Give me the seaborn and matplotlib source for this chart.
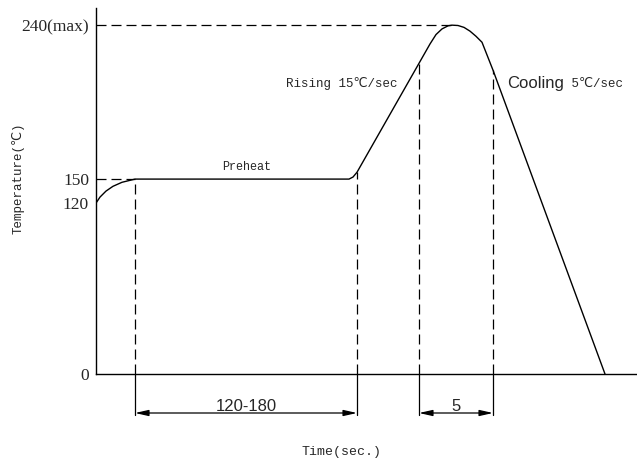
import matplotlib.pyplot as plt
import numpy as np
import seaborn as sns

# Reflow profile (schematic time units, temperature in C)
time = [0, 4, 10, 17, 26, 39, 253, 257, 261, 334, 340, 346, 352, 356, 362,
        368, 374, 380, 386, 397, 509]
temp = [120, 127.5, 135, 141, 146, 150, 150, 151.2, 154, 229, 234.5,
        237.8, 239.6, 240, 239.8, 238.7, 236.5, 233.5, 230, 213.7, 0]

# marker times: preheat start / end, peak window start / end
preheat_start, preheat_end = 39, 261
peak_start, peak_end = 323, 397
peak_start_temp, peak_end_temp = 218.4, 213.7
peak_time, peak_temp = 356, 240

y_ticks = [0, 120, 150, 240]
y_labels = ['0', '120', '150', '240(max)']

# the drawing is not to scale: piecewise y axis
scale_temps = [0, 120, 150, 240, 300]
scale_pos = [0, 171, 195, 349, 452]

sns.set_style('white')
mono = ['Liberation Mono', 'DejaVu Sans Mono', 'DejaVu Sans']
serif = ['Liberation Serif', 'DejaVu Serif']
sans = ['Liberation Sans', 'DejaVu Sans']

fig = plt.figure(figsize=(6.37, 4.61), dpi=100)
ax = fig.add_axes([96 / 637, 87 / 461, 541 / 637, 366 / 461])
ax.set_yscale('function',
              functions=(lambda v: np.interp(v, scale_temps, scale_pos),
                         lambda v: np.interp(v, scale_pos, scale_temps)))

sns.lineplot(x=time, y=temp, color='black', lw=1, ax=ax, sort=False,
             estimator=None)

dash = (0, (8, 4))
ax.plot([0, peak_time], [peak_temp, peak_temp], color='black', lw=0.9, ls=dash)
ax.plot([0, preheat_start], [150, 150], color='black', lw=0.9, ls=dash)
for t, T in [(preheat_start, 150), (preheat_end, 154),
             (peak_start, peak_start_temp), (peak_end, peak_end_temp)]:
    ax.plot([t, t], [0, T], color='black', lw=0.9, ls=dash)

ax.set_xlim(0, 541)
ax.set_ylim(0, 250)
ax.set_xticks([])
ax.set_yticks(y_ticks)
ax.set_yticklabels(y_labels, family=serif, fontsize=12.5)
ax.tick_params(axis='y', length=0, pad=5)
for s in ['top', 'right']:
    ax.spines[s].set_visible(False)
for s in ['left', 'bottom']:
    ax.spines[s].set_color('black')
    ax.spines[s].set_linewidth(1)

# dimension lines under the axis
xt = ax.get_xaxis_transform()
ext_bot = -41 / 366
dim_y = -39 / 366
for t in [preheat_start, preheat_end, peak_start, peak_end]:
    ax.plot([t, t], [0, ext_bot], transform=xt, color='black', lw=0.9,
            clip_on=False)
for a, b, label in [(preheat_start, preheat_end, '120-180'),
                    (peak_start, peak_end, '5')]:
    ax.annotate('', xy=(a, dim_y), xytext=(b, dim_y), xycoords=xt,
                textcoords=xt,
                arrowprops=dict(arrowstyle='<|-|>,head_length=0.8,head_width=0.18',
                                color='black', lw=0.9, shrinkA=0, shrinkB=0,
                                mutation_scale=10))
    ax.text((a + b) / 2, -32 / 366, label, transform=xt, ha='center',
            va='center', fontsize=12, family=sans)

ax.text(151, 157, 'Preheat', ha='center', va='center', fontsize=8.5,
        family=mono)
ax.text(302, 206, 'Rising 15℃/sec', ha='right', va='center', fontsize=9,
        family=mono)
cool = ax.text(411, 206, 'Cooling', ha='left', va='center', fontsize=12,
               family=sans)
ax.annotate(' 5℃/sec', xy=(1, 0.45), xycoords=cool, ha='left', va='center',
            fontsize=9, family=mono)

fig.text(18 / 637, (461 - 178) / 461, 'Temperature(℃)', rotation=90,
         ha='center', va='center', fontsize=9, family=mono)
fig.text(341 / 637, (461 - 452) / 461, 'Time(sec.)', ha='center', va='center',
         fontsize=9.5, family=mono)

fig.savefig('out.png', dpi=100)
